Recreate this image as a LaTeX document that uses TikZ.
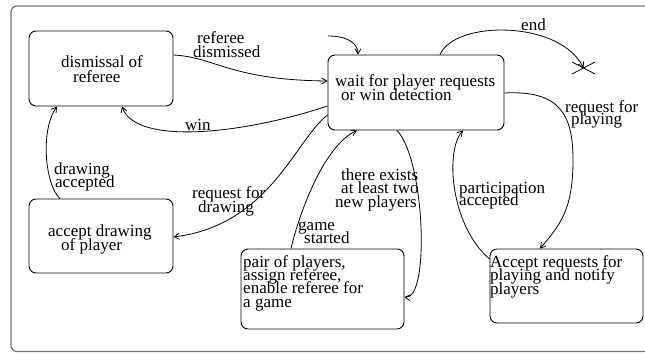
\documentclass[tikz,border=0pt]{standalone}
\usepackage{fontspec}
\setmainfont{Liberation Serif}
\usetikzlibrary{arrows.meta}
\newcommand\lblfont[1]{\fontsize{17}{#1}\selectfont\lineskiplimit=-30pt\relax}
\newcommand\ind[1]{\hskip #1pt\relax}
\begin{document}
\begin{tikzpicture}[x=1pt,y=-1pt,
  box/.style={draw, rounded corners=7pt, line width=0.9pt, inner sep=0pt},
  txt/.style={anchor=base west, inner sep=0pt, align=left, font={\lblfont{#1}}},
  txt/.default=13.5,
  edge/.style={line width=0.8pt, -{Straight Barb[length=5pt,width=6pt]}},
  frame/.style={draw=black!55, line width=1.2pt, rounded corners=6pt}]
\useasboundingbox (0,0) rectangle (645,354);
\draw[frame] (11,6) rectangle (662,351.5);

% state boxes
\node[box, minimum width=144pt, minimum height=75pt] (dis) at (101,68.5) {};
\node[box, minimum width=176pt, minimum height=75pt] (wait) at (416,92.5) {};
\node[box, minimum width=144pt, minimum height=74pt] (acc) at (101,236) {};
\node[box, minimum width=163pt, minimum height=80pt] (pair) at (322.5,289) {};
\node[box, minimum width=153pt, minimum height=74pt] (areq) at (566.5,286) {};

% state texts (anchor = baseline of last line)
\node[txt=15] (distext) at (61,82) {dismissal of\\\ind{12}referee};
\node[txt=14] (waittext) at (335,100) {wait for player requests\\\ind{6}or win detection};
\node[txt=14] (acctext) at (48,250) {accept drawing\\\ind{13}of player};
\node[txt=13.3] (pairtext) at (243,307) {pair of players,\\assign referee,\\enable referee for\\a game};
\node[txt=13.5] (areqtext) at (490,294) {Accept requests for\\playing and notify\\players};

% edge labels
\node[txt=14] (l1) at (193,57) {\ind{4}referee\\dismissed};
\node[txt] (l2) at (185,130) {win};
\node[txt=13] (l3) at (54,187) {drawing\\\ind{1}accepted};
\node[txt=14] (l4) at (192,212) {request for\\\ind{6}drawing};
\node[txt=13.5] (l5) at (335,207) {\ind{6}there exists\\\ind{6}at least two\\new players};
\node[txt=13] (l6) at (298,243) {game\\\ind{6}started};
\node[txt=12] (l7) at (459,205) {participation\\accepted};
\node[txt=12] (l8) at (565,124) {request for\\\ind{6}playing};
\node[txt] (l9) at (521,30) {end};

% transitions
\draw[edge] (dis.east |- 0,55) .. controls (215,57) and (230,80) .. (wait.west |- 0,81);
\draw[edge] (wait.west |- 0,106) .. controls (240,135) and (135,145) .. (dis.south -| 122,0);
\draw[edge] (acc.north -| 60,0) .. controls (45,185) and (40,130) .. (dis.south -| 57,0);
\draw[edge] (wait.west |- 0,115) .. controls (295,140) and (270,225) .. (acc.east |- 0,237);
\draw[edge] (pair.north -| 291,0) .. controls (300,210) and (325,145) .. (wait.south -| 357,0);
\draw[edge] (wait.south -| 397,0) .. controls (425,160) and (430,300) .. (pair.east |- 0,297);
\draw[edge] (areq.west |- 0,259) .. controls (450,225) and (445,150) .. (wait.south -| 463,0);
\draw[edge] (wait.east |- 0,93) .. controls (560,90) and (573,115) .. (573,160) .. controls (573,210) and (560,225) .. (areq.north -| 540,0);

% initial and final
\coordinate (init) at (328,36);
\draw[edge] (init) .. controls (350,36) and (358,45) .. (wait.north -| 358,0);
\coordinate (final) at (583.5,68);
\draw[edge] (wait.north -| 440,0) .. controls (455,20) and (560,20) .. (final);
\draw[line width=0.8pt] ([shift={(-11.5,-6)}]final) -- ([shift={(11.5,6)}]final);
\draw[line width=0.8pt] ([shift={(-11.5,6)}]final) -- ([shift={(11.5,-6)}]final);
\end{tikzpicture}
\end{document}
